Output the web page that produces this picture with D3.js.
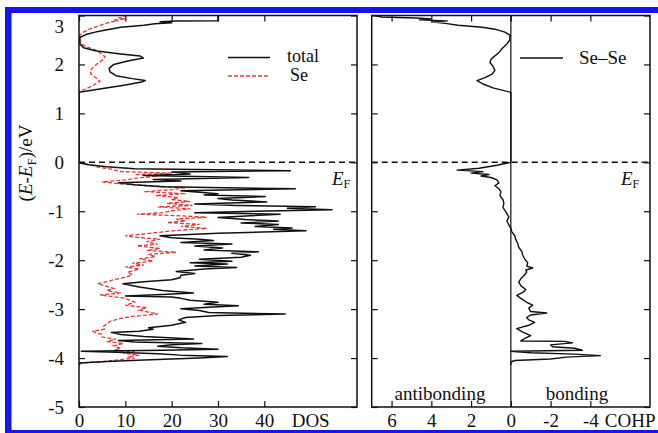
<!DOCTYPE html>
<html>
<head>
<meta charset="utf-8">
<script src="https://cdn.jsdelivr.net/npm/d3@7"></script>
<style>
body { margin: 0; background: #fff; }
svg { display: block; font-family: "Liberation Serif", "Times New Roman", serif; }
</style>
</head>
<body>
<svg id="chart" width="658" height="433"></svg>
<script>
// energy ticks and axis values
const energyTicks = [-5, -4, -3, -2, -1, 0, 1, 2, 3];
const dosTicks = [0, 10, 20, 30, 40];
const cohpTicks = [6, 4, 2, 0, -2, -4];

// [E - EF, DOS] total
const totalDos = [
  [-4.14, 0], [-4.10, 0], [-4.07, 6], [-4.04, 14], [-4.00, 26], [-3.97, 32], [-3.94, 22], [-3.91, 17],
  [-3.88, 8], [-3.86, 0.5], [-3.84, 18], [-3.82, 30], [-3.79, 22], [-3.76, 17], [-3.73, 20], [-3.70, 26.5],
  [-3.67, 12], [-3.64, 8.5], [-3.61, 24.7], [-3.56, 14], [-3.52, 9], [-3.48, 7], [-3.45, 13], [-3.41, 16],
  [-3.38, 15], [-3.33, 20], [-3.27, 23], [-3.22, 21.5], [-3.17, 23], [-3.13, 30], [-3.10, 44.5], [-3.07, 28],
  [-3.03, 26], [-2.99, 22], [-2.96, 28], [-2.93, 34.4], [-2.90, 27], [-2.86, 30], [-2.82, 24], [-2.78, 22],
  [-2.75, 20], [-2.73, 10], [-2.70, 18], [-2.67, 24.7], [-2.62, 18], [-2.55, 13], [-2.48, 9.5], [-2.44, 14],
  [-2.40, 20], [-2.36, 21.8], [-2.31, 22], [-2.27, 25], [-2.23, 21], [-2.18, 27], [-2.15, 34], [-2.12, 25],
  [-2.08, 32], [-2.05, 24], [-2.02, 33], [-1.98, 26], [-1.94, 35], [-1.90, 37], [-1.86, 33], [-1.83, 38.7],
  [-1.79, 27], [-1.75, 31], [-1.71, 25], [-1.67, 33], [-1.64, 22], [-1.60, 29], [-1.57, 26], [-1.54, 20],
  [-1.50, 17.5], [-1.45, 30], [-1.40, 49], [-1.37, 42], [-1.34, 46], [-1.31, 38], [-1.27, 43], [-1.24, 35],
  [-1.20, 43], [-1.17, 36], [-1.13, 30], [-1.09, 37], [-1.06, 43.4], [-1.03, 25], [-1.00, 38], [-0.97, 54.6],
  [-0.94, 45], [-0.91, 51], [-0.88, 34], [-0.85, 25], [-0.81, 40.5], [-0.77, 33], [-0.74, 30], [-0.70, 40.2],
  [-0.67, 27], [-0.64, 30], [-0.61, 26], [-0.58, 22], [-0.54, 46.7], [-0.50, 18], [-0.46, 12], [-0.42, 8.5],
  [-0.38, 22], [-0.35, 16], [-0.31, 36.6], [-0.27, 14], [-0.24, 24], [-0.20, 20], [-0.17, 45.6], [-0.13, 12],
  [-0.09, 6], [-0.05, 2], [-0.01, 0],
  [1.43, 0], [1.50, 4.5], [1.58, 10], [1.64, 13.5], [1.67, 14.3], [1.71, 11.5], [1.77, 8], [1.85, 6.7],
  [1.92, 6.5], [2.00, 7.5], [2.07, 10.5], [2.13, 13.9], [2.17, 13.2], [2.22, 8.5], [2.28, 3.5], [2.34, 1],
  [2.42, 0.2], [2.55, 0.2], [2.61, 1.5], [2.66, 3.5], [2.70, 5.5], [2.76, 9], [2.80, 14], [2.83, 16.4],
  [2.85, 20], [2.87, 17.5], [2.89, 21], [2.895, 30], [3.2, 30]
];

// [E - EF, DOS] Se projected
const seDos = [
  [-4.14, 0], [-4.10, 0.5], [-4.08, 4], [-4.06, 6.5], [-4.02, 10], [-4.00, 12], [-3.97, 10.5], [-3.94, 13],
  [-3.90, 9.5], [-3.87, 12], [-3.84, 7.5], [-3.80, 9], [-3.75, 7.5], [-3.70, 9.6], [-3.66, 6], [-3.62, 8],
  [-3.57, 5], [-3.52, 5], [-3.48, 3.5], [-3.45, 3], [-3.41, 5.5], [-3.35, 5.3], [-3.30, 6], [-3.25, 6.7],
  [-3.19, 9], [-3.15, 11.5], [-3.10, 17], [-3.06, 15], [-3.02, 13], [-2.97, 14.6], [-2.92, 10], [-2.86, 12],
  [-2.82, 11], [-2.78, 10], [-2.74, 7], [-2.71, 4.5], [-2.67, 9], [-2.62, 6], [-2.58, 7.5], [-2.52, 5.5],
  [-2.48, 4], [-2.44, 6], [-2.40, 7.5], [-2.35, 10], [-2.30, 11.5], [-2.24, 10.5], [-2.18, 13], [-2.14, 10],
  [-2.10, 14], [-2.06, 11.5], [-2.02, 16], [-1.97, 13], [-1.93, 16.5], [-1.88, 15], [-1.84, 21], [-1.80, 14.6],
  [-1.76, 17.5], [-1.71, 12.5], [-1.67, 17], [-1.62, 14.6], [-1.57, 17.5], [-1.53, 12], [-1.50, 10], [-1.46, 14.6],
  [-1.40, 20], [-1.35, 27.6], [-1.31, 22], [-1.27, 26], [-1.23, 19], [-1.20, 23], [-1.16, 21], [-1.12, 27.6],
  [-1.09, 21], [-1.06, 12.5], [-1.03, 18], [-0.99, 20], [-0.95, 24], [-0.91, 17], [-0.88, 24.5], [-0.84, 19],
  [-0.80, 24], [-0.76, 20], [-0.72, 21.5], [-0.68, 16.5], [-0.64, 23], [-0.60, 14], [-0.56, 20], [-0.52, 23],
  [-0.48, 15], [-0.44, 9], [-0.40, 5], [-0.36, 10], [-0.32, 13], [-0.28, 17], [-0.25, 12], [-0.22, 20],
  [-0.19, 9], [-0.14, 7], [-0.10, 4], [-0.06, 3], [-0.02, 1], [0, 0],
  [1.45, 0], [1.50, 1.5], [1.58, 3.2], [1.66, 4.5], [1.72, 3.8], [1.80, 2.6], [1.86, 2.4], [1.94, 3.0],
  [2.02, 4.0], [2.10, 5.2], [2.16, 5.6], [2.22, 4.8], [2.29, 3.7], [2.35, 2.0], [2.40, 0.8], [2.46, 0.2],
  [2.60, 0.2], [2.66, 1.0], [2.72, 2.2], [2.78, 4.0], [2.83, 5.5], [2.87, 7], [2.89, 8.5], [2.91, 7.5],
  [2.93, 10], [2.95, 8.5], [2.97, 9.5], [3.0, 10], [3.2, 11]
];

// [E - EF, -COHP] Se-Se
const cohpSeSe = [
  [-4.14, 0], [-4.08, 0], [-4.05, -0.2], [-4.02, -2.0], [-3.98, -2.8], [-3.95, -4.5], [-3.92, -3.2], [-3.89, -1.0],
  [-3.86, 0], [-3.84, -3.6], [-3.80, -3.2], [-3.77, -2.1], [-3.73, -2.0], [-3.69, -3.1], [-3.66, -2.7], [-3.65, -0.5],
  [-3.60, -0.7], [-3.54, -1.0], [-3.47, -0.6], [-3.40, -0.3], [-3.33, -0.9], [-3.27, -1.2], [-3.22, -0.9], [-3.17, -0.8],
  [-3.12, -1.0], [-3.08, -1.8], [-3.05, -1.0], [-2.98, -0.9], [-2.92, -1.1], [-2.86, -0.8], [-2.78, -0.5], [-2.72, -0.3],
  [-2.66, -0.6], [-2.60, -0.75], [-2.52, -0.5], [-2.45, -0.4], [-2.38, -0.5], [-2.30, -0.7], [-2.24, -0.8], [-2.20, -0.75],
  [-2.16, -1.1], [-2.12, -0.8], [-2.05, -0.85], [-1.98, -0.7], [-1.90, -0.6], [-1.82, -0.55], [-1.74, -0.4], [-1.66, -0.35],
  [-1.58, -0.25], [-1.50, -0.2], [-1.42, -0.05], [-1.35, 0], [-1.28, 0.1], [-1.20, 0.2], [-1.12, 0.1], [-1.05, 0.2],
  [-0.98, 0.3], [-0.92, 0.4], [-0.84, 0.35], [-0.76, 0.4], [-0.68, 0.55], [-0.60, 0.5], [-0.54, 0.6], [-0.48, 0.8],
  [-0.42, 0.6], [-0.36, 0.7], [-0.31, 1.0], [-0.28, 1.5], [-0.25, 1.1], [-0.22, 2.0], [-0.19, 1.4], [-0.16, 2.7],
  [-0.12, 1.6], [-0.06, 0.7], [0, 0],
  [1.43, 0], [1.52, 0.9], [1.60, 1.4], [1.67, 1.7], [1.73, 1.3], [1.80, 0.95], [1.88, 0.8], [1.96, 0.9],
  [2.04, 1.05], [2.10, 1.0], [2.16, 0.85], [2.24, 0.6], [2.32, 0.45], [2.42, 0.2], [2.50, 0.05], [2.60, 0.05],
  [2.66, 0.3], [2.72, 0.8], [2.76, 1.45], [2.80, 2.65], [2.84, 3.3], [2.87, 4.0], [2.89, 3.2], [2.91, 4.6],
  [2.93, 4.0], [2.95, 4.8], [2.97, 6.5], [3.0, 6.8], [3.2, 7]
];

const svg = d3.select("#chart");
const serif = "Liberation Serif, Times New Roman, serif";
const fontSize = 19;
const plotTop = 15.5, plotBottom = 407;

const yE = d3.scaleLinear().domain([-5, 3]).range([plotBottom, plotTop]);
const xDos = d3.scaleLinear().domain([0, 60]).range([79, 357]);
const xCohp = d3.scaleLinear().domain([7, -7]).range([371.7, 650]);

// blue frame of the figure
const blue = "#1515ee";
svg.append("rect").attr("x", 5).attr("y", 7).attr("width", 653).attr("height", 6).attr("fill", blue);
svg.append("rect").attr("x", 5).attr("y", 7).attr("width", 6.5).attr("height", 426).attr("fill", blue);
svg.append("rect").attr("x", 5).attr("y", 430).attr("width", 653).attr("height", 3).attr("fill", blue);

// clip paths for each panel
const defs = svg.append("defs");
defs.append("clipPath").attr("id", "clipL").append("rect")
  .attr("x", xDos.range()[0]).attr("y", plotTop)
  .attr("width", xDos.range()[1] - xDos.range()[0]).attr("height", plotBottom - plotTop);
defs.append("clipPath").attr("id", "clipR").append("rect")
  .attr("x", xCohp.range()[0]).attr("y", plotTop)
  .attr("width", xCohp.range()[1] - xCohp.range()[0]).attr("height", plotBottom - plotTop);

const dosLine = d3.line().x(d => xDos(d[1])).y(d => yE(d[0]));
const cohpLine = d3.line().x(d => xCohp(d[1])).y(d => yE(d[0]));

// left panel curves
const left = svg.append("g").attr("clip-path", "url(#clipL)");
left.append("path").datum(seDos)
  .attr("d", dosLine).attr("fill", "none")
  .attr("stroke", "#e23a36").attr("stroke-width", 1.3).attr("stroke-dasharray", "4,2");
left.append("path").datum(totalDos)
  .attr("d", dosLine).attr("fill", "none")
  .attr("stroke", "#111").attr("stroke-width", 1.5).attr("stroke-linejoin", "round");

// right panel curves
const right = svg.append("g").attr("clip-path", "url(#clipR)");
right.append("line")
  .attr("x1", xCohp(0)).attr("x2", xCohp(0)).attr("y1", plotTop).attr("y2", plotBottom)
  .attr("stroke", "#222").attr("stroke-width", 1.3);
right.append("path").datum(cohpSeSe)
  .attr("d", cohpLine).attr("fill", "none")
  .attr("stroke", "#111").attr("stroke-width", 1.4).attr("stroke-linejoin", "round");

// Fermi level
[xDos.range(), xCohp.range()].forEach(r => {
  svg.append("line")
    .attr("x1", r[0]).attr("x2", r[1]).attr("y1", yE(0)).attr("y2", yE(0))
    .attr("stroke", "#111").attr("stroke-width", 1.4).attr("stroke-dasharray", "6,4");
});

const fmt = d => String(d);

function styleAxis(g) {
  g.attr("font-family", serif).attr("font-size", fontSize);
  g.select(".domain").remove();
  g.selectAll(".tick line").attr("stroke", "#111").attr("stroke-width", 1.2);
  g.selectAll("text").attr("fill", "#111");
}

// left panel axes
svg.append("g").attr("transform", `translate(${xDos.range()[0]},0)`)
  .call(d3.axisLeft(yE).tickValues(energyTicks).tickSize(-6).tickSizeOuter(0).tickPadding(15).tickFormat(fmt))
  .call(styleAxis)
  .call(g => g.selectAll(".tick").filter(d => d === 3).select("text").attr("transform", "translate(0,11)"));
svg.append("g").attr("transform", `translate(${xDos.range()[1]},0)`)
  .call(d3.axisRight(yE).tickValues(energyTicks).tickSize(-6).tickSizeOuter(0).tickFormat(""))
  .call(styleAxis);
svg.append("g").attr("transform", `translate(0,${plotBottom})`)
  .call(d3.axisBottom(xDos).tickValues(dosTicks).tickSize(-6).tickSizeOuter(0).tickPadding(6.5).tickFormat(fmt))
  .call(styleAxis);
svg.append("g").attr("transform", `translate(0,${plotTop})`)
  .call(d3.axisTop(xDos).tickValues(dosTicks).tickSize(-6).tickSizeOuter(0).tickFormat(""))
  .call(styleAxis);

// right panel axes
svg.append("g").attr("transform", `translate(${xCohp.range()[0]},0)`)
  .call(d3.axisLeft(yE).tickValues(energyTicks).tickSize(-6).tickSizeOuter(0).tickFormat(""))
  .call(styleAxis);
svg.append("g").attr("transform", `translate(${xCohp.range()[1]},0)`)
  .call(d3.axisRight(yE).tickValues(energyTicks).tickSize(-6).tickSizeOuter(0).tickFormat(""))
  .call(styleAxis);
svg.append("g").attr("transform", `translate(0,${plotBottom})`)
  .call(d3.axisBottom(xCohp).tickValues(cohpTicks).tickSize(-6).tickSizeOuter(0).tickPadding(6.5).tickFormat(fmt))
  .call(styleAxis);
svg.append("g").attr("transform", `translate(0,${plotTop})`)
  .call(d3.axisTop(xCohp).tickValues(cohpTicks).tickSize(-6).tickSizeOuter(0).tickFormat(""))
  .call(styleAxis);

// panel frames
[xDos.range(), xCohp.range()].forEach(r => {
  svg.append("rect")
    .attr("x", r[0]).attr("y", plotTop).attr("width", r[1] - r[0]).attr("height", plotBottom - plotTop)
    .attr("fill", "none").attr("stroke", "#111").attr("stroke-width", 1.5);
});

const text = (x, y, s, anchor, size) => svg.append("text")
  .attr("x", x).attr("y", y).attr("font-family", serif).attr("font-size", size || fontSize).attr("fill", "#111")
  .attr("text-anchor", anchor || "start").text(s);

// axis names placed in the tick rows
text(xDos(50), plotBottom + 20, "DOS", "middle");
text(xCohp(-6), plotBottom + 20, "COHP", "middle");
text(440, 400, "antibonding", "middle");
text(577, 400, "bonding", "middle");

// y label
const yl = svg.append("text")
  .attr("transform", "translate(32,163) rotate(-90)")
  .attr("text-anchor", "middle").attr("font-family", serif).attr("font-size", fontSize).attr("fill", "#111");
yl.append("tspan").text("(");
yl.append("tspan").attr("font-style", "italic").text("E");
yl.append("tspan").text("-");
yl.append("tspan").attr("font-style", "italic").text("E");
yl.append("tspan").attr("font-size", 13).attr("dy", 4).text("F");
yl.append("tspan").attr("dy", -4).text(")/eV");

// Fermi labels
function fermiLabel(x) {
  const t = svg.append("text").attr("x", x).attr("y", 185)
    .attr("font-family", serif).attr("font-size", fontSize).attr("fill", "#111");
  t.append("tspan").attr("font-style", "italic").text("E");
  t.append("tspan").attr("font-size", 12).attr("dy", 3).text("F");
}
fermiLabel(332);
fermiLabel(621);

// legends
svg.append("line").attr("x1", 228).attr("x2", 270).attr("y1", 57.5).attr("y2", 57.5)
  .attr("stroke", "#111").attr("stroke-width", 1.5);
text(287, 62, "total", "start", 18);
svg.append("line").attr("x1", 228).attr("x2", 270).attr("y1", 76).attr("y2", 76)
  .attr("stroke", "#e23a36").attr("stroke-width", 1.3).attr("stroke-dasharray", "4,2");
text(290, 81, "Se", "start", 18);
svg.append("line").attr("x1", 520).attr("x2", 563).attr("y1", 58).attr("y2", 58)
  .attr("stroke", "#111").attr("stroke-width", 1.5);
text(579, 64, "Se\u2013Se");
</script>
</body>
</html>
